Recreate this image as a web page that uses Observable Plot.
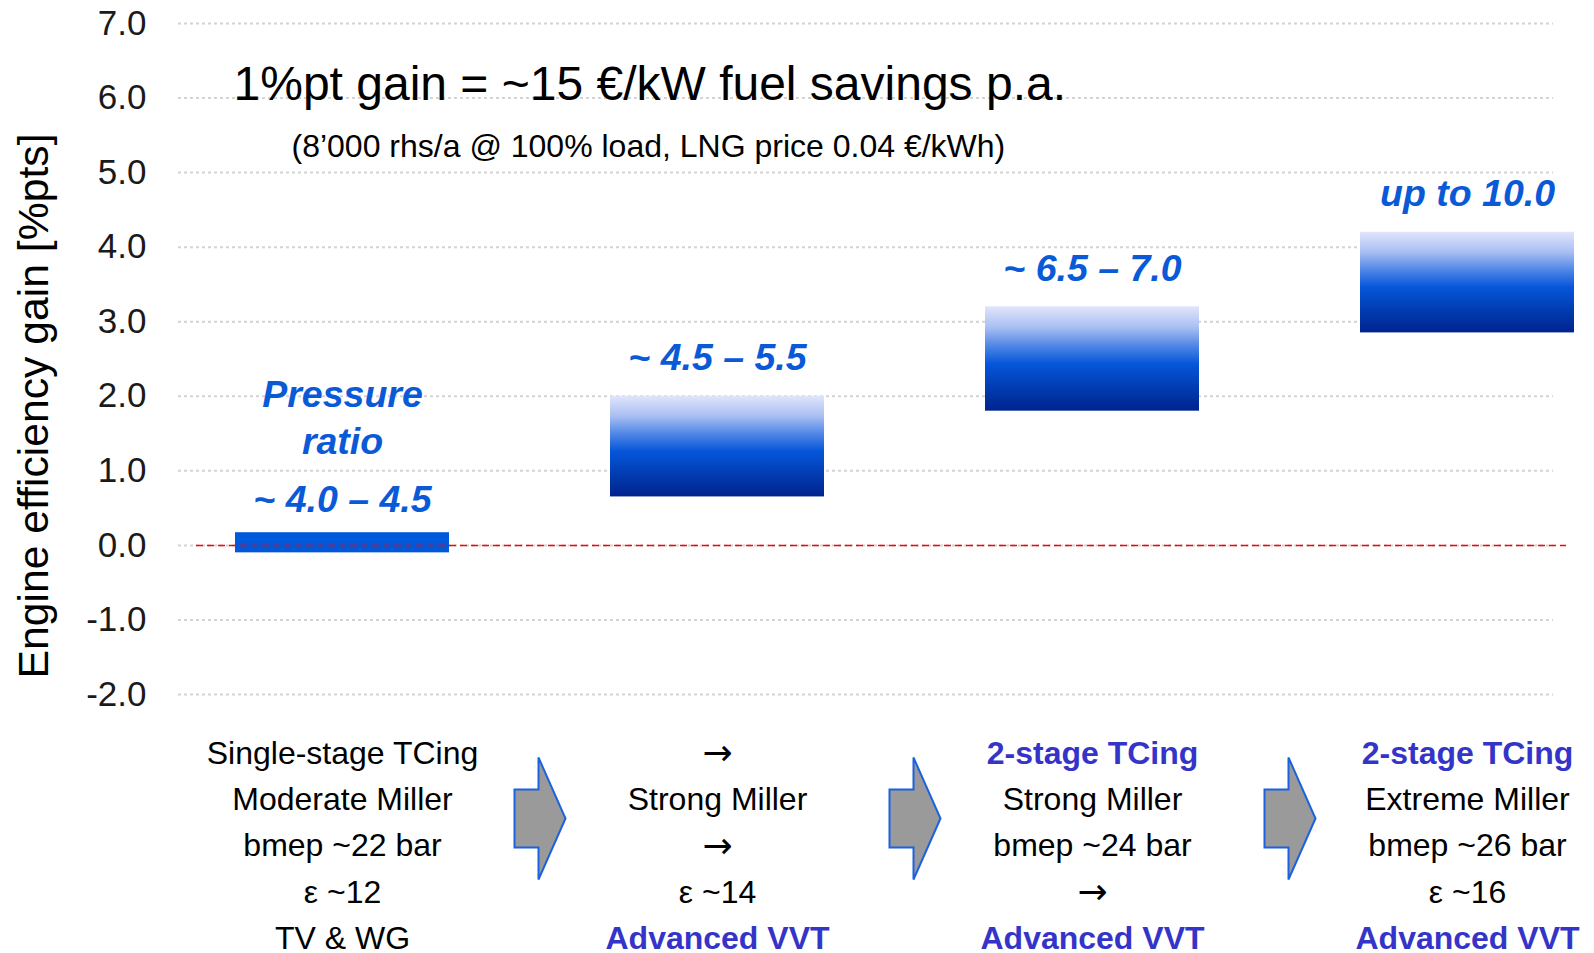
<!DOCTYPE html>
<html>
<head>
<meta charset="utf-8">
<script src="https://cdn.jsdelivr.net/npm/d3@7"></script>
<script src="https://cdn.jsdelivr.net/npm/@observablehq/plot@0.6"></script>
<style>
html, body { margin: 0; padding: 0; background: #ffffff; }
#chart { width: 1594px; height: 953px; }
</style>
</head>
<body>
<svg width="0" height="0" style="position:absolute">
  <defs>
    <linearGradient id="barGrad" x1="0" y1="0" x2="0" y2="1">
      <stop offset="0" stop-color="#e1e5fb"/>
      <stop offset="0.2" stop-color="#a9bff2"/>
      <stop offset="0.38" stop-color="#4f86e6"/>
      <stop offset="0.55" stop-color="#0656da"/>
      <stop offset="0.8" stop-color="#013aad"/>
      <stop offset="1" stop-color="#00238f"/>
    </linearGradient>
  </defs>
</svg>
<div id="chart"></div>
<script>
// ---- data ----
const categories = ["Stage 1", "Stage 2", "Stage 3", "Stage 4"];
const rangeLow = [-0.1, 0.65, 1.8, 2.85];
const rangeHigh = [0.17, 2.0, 3.2, 4.2];
const gainLabels = ["~ 4.0 – 4.5", "~ 4.5 – 5.5", "~ 6.5 – 7.0", "up to 10.0"];
const pressureNote = "Pressure\nratio";
const yTicks = [-2, -1, 0, 1, 2, 3, 4, 5, 6, 7];
const column1 = ["Single-stage TCing", "Moderate Miller", "bmep ~22 bar", "ε ~12", "TV & WG"];
const column2 = ["→", "Strong Miller", "→", "ε ~14", "Advanced VVT"];
const column3 = ["2-stage TCing", "Strong Miller", "bmep ~24 bar", "→", "Advanced VVT"];
const column4 = ["2-stage TCing", "Extreme Miller", "bmep ~26 bar", "ε ~16", "Advanced VVT"];
const highlightLines = ["2-stage TCing", "Advanced VVT"];
const symbolLines = ["→"];
const titleText = "1%pt gain = ~15 €/kW fuel savings p.a.";
const subtitleText = "(8’000 rhs/a @ 100% load, LNG price 0.04 €/kWh)";
const yLabel = "Engine efficiency gain [%pts]";

// ---- tables built from the arrays ----
const bars = categories.map((c, i) => ({cat: c, lo: rangeLow[i], hi: rangeHigh[i], label: gainLabels[i]}));
const columns = [column1, column2, column3, column4];
const lines = [];
columns.forEach((col, ci) => col.forEach((t, li) => lines.push({
  cat: categories[ci], line: li, text: t,
  kind: highlightLines.includes(t) ? "hl" : symbolLines.includes(t) ? "sym" : "plain"
})));
const arrowTargets = categories.slice(1);

const blockArrow = {
  draw(ctx) {
    ctx.moveTo(-25, -29);
    ctx.lineTo(-1, -29);
    ctx.lineTo(-1, -61);
    ctx.lineTo(26, 0);
    ctx.lineTo(-1, 61);
    ctx.lineTo(-1, 29);
    ctx.lineTo(-25, 29);
    ctx.closePath();
  }
};

const FONT = "'Liberation Sans', Arial, Helvetica, sans-serif";
const labelBlue = "#0a5ad8";
const lineBlue = "#3434c8";

const bottomMarks = [];
for (let i = 0; i < 5; i++) {
  const dy = 59 + 46.25 * i;
  bottomMarks.push(Plot.text(lines.filter(d => d.line === i && d.kind === "plain"), {
    x: "cat", text: "text", frameAnchor: "bottom", textAnchor: "middle", lineAnchor: "middle", dy,
    fontSize: 32, fill: "#000000"
  }));
  bottomMarks.push(Plot.text(lines.filter(d => d.line === i && d.kind === "sym"), {
    x: "cat", text: "text", frameAnchor: "bottom", textAnchor: "middle", lineAnchor: "middle", dy,
    fontSize: 36, fontFamily: "'DejaVu Sans', sans-serif", fill: "#000000"
  }));
  bottomMarks.push(Plot.text(lines.filter(d => d.line === i && d.kind === "hl"), {
    x: "cat", text: "text", frameAnchor: "bottom", textAnchor: "middle", lineAnchor: "middle", dy,
    fontSize: 32, fontWeight: "bold", fill: lineBlue
  }));
}

const labelStyle = {fontSize: 37.5, fontWeight: "bold", fontStyle: "italic", fill: labelBlue};

const chart = Plot.plot({
  width: 1594,
  height: 953,
  marginLeft: 178,
  marginRight: 20,
  marginTop: 23,
  marginBottom: 259,
  x: {type: "band", domain: categories, paddingInner: 0.4305, paddingOuter: 0.0726, align: 1, axis: null},
  y: {domain: [-2, 7], axis: null},
  style: {fontFamily: FONT, background: "#ffffff", overflow: "visible", color: "#000"},
  marks: [
    Plot.ruleY(yTicks, {y: d => d, stroke: "#d4d4d4", strokeWidth: 2, strokeDasharray: "3 3", insetRight: 21}),
    Plot.barY(bars.slice(0, 1), {x: "cat", y1: "lo", y2: "hi", fill: "#0058da"}),
    Plot.barY(bars.slice(1), {x: "cat", y1: "lo", y2: "hi", fill: "url(#barGrad)"}),
    Plot.ruleY([0], {y: d => d, stroke: "#ff0000", strokeWidth: 1.5, strokeDasharray: "7 4", insetLeft: 18, insetRight: 8}),
    Plot.text(bars.slice(0, 1), {x: "cat", y: "hi", text: "label", dy: -33, ...labelStyle}),
    Plot.text(bars.slice(1), {x: "cat", y: "hi", text: "label", dy: -38, ...labelStyle}),
    Plot.text(bars.slice(0, 1), {x: "cat", y: "hi", text: () => pressureNote, dy: -117, lineHeight: 1.25, ...labelStyle}),
    Plot.text(yTicks, {y: d => d, text: d => d.toFixed(1), frameAnchor: "left", textAnchor: "end", lineAnchor: "middle", dx: -32, fontSize: 35, fill: "#1a1a1a"}),
    Plot.text([yLabel], {text: d => d, frameAnchor: "left", textAnchor: "middle", lineAnchor: "middle", rotate: -90, dx: -144, dy: 47, fontSize: 42.7, fill: "#000000"}),
    Plot.text([titleText], {text: d => d, frameAnchor: "top-left", textAnchor: "start", lineAnchor: "middle", dx: 55, dy: 61, fontSize: 48, fill: "#000000"}),
    Plot.text([subtitleText], {text: d => d, frameAnchor: "top-left", textAnchor: "start", lineAnchor: "middle", dx: 113, dy: 123, fontSize: 32, fill: "#000000"}),
    ...bottomMarks,
    Plot.dot(arrowTargets, {x: d => d, frameAnchor: "bottom", dy: 124, dx: -178, symbol: blockArrow, r: 10, fill: "#9a9a9a", stroke: "#1a62e0", strokeWidth: 2})
  ]
});
document.getElementById("chart").appendChild(chart);
</script>
</body>
</html>
